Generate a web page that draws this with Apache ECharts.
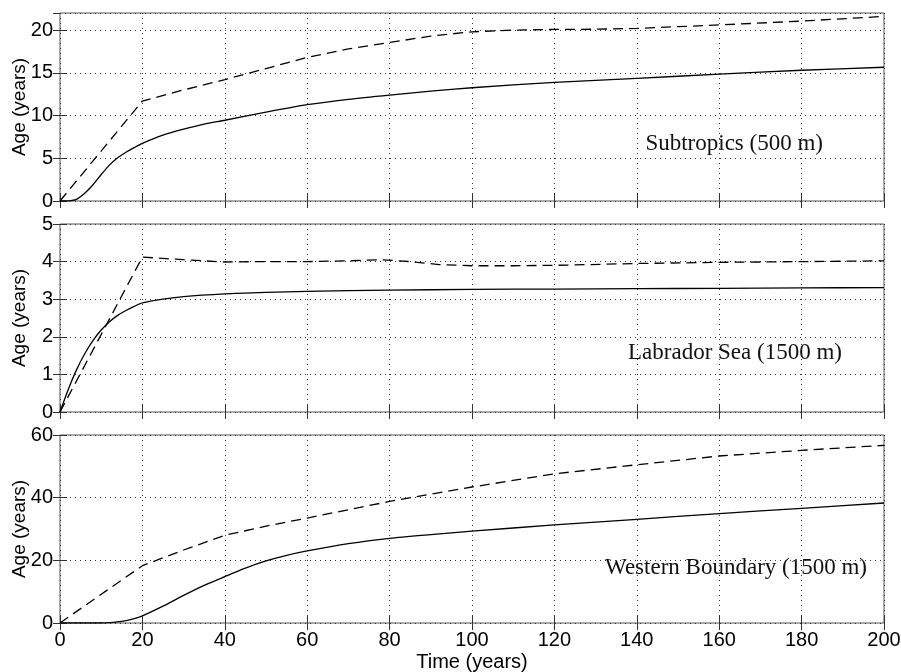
<!DOCTYPE html>
<html>
<head>
<meta charset="utf-8">
<title>Age vs time</title>
<script src="https://cdn.jsdelivr.net/npm/echarts@6/dist/echarts.min.js"></script>
<style>
  html, body { margin: 0; padding: 0; background: #fff; }
  #chart { width: 901px; height: 672px; }
</style>
</head>
<body>
<div id="chart"></div>
<script>
// Subtropics (500 m)
var subSolidT   = [0, 2, 4, 6, 8, 10, 12, 14, 16, 18, 20, 25, 30, 35, 40, 50, 60, 70, 80, 90, 100, 120, 140, 160, 180, 200];
var subSolidAge = [0, 0.02, 0.2, 0.9, 1.9, 3.1, 4.2, 5.05, 5.7, 6.25, 6.75, 7.7, 8.4, 9.0, 9.45, 10.4, 11.27, 11.9, 12.4, 12.85, 13.25, 13.88, 14.35, 14.85, 15.3, 15.65];
var subDashT    = [0, 20, 30, 40, 50, 60, 70, 80, 90, 100, 110, 120, 130, 140, 160, 180, 200];
var subDashAge  = [0, 11.7, 13.0, 14.2, 15.5, 16.8, 17.8, 18.55, 19.3, 19.8, 20.0, 20.08, 20.1, 20.2, 20.6, 21.05, 21.6];

// Labrador Sea (1500 m)
var labSolidT   = [0, 2, 4, 6, 8, 10, 12, 14, 16, 18, 20, 25, 30, 40, 50, 60, 80, 100, 120, 140, 160, 180, 200];
var labSolidAge = [0, 0.6, 1.12, 1.55, 1.9, 2.18, 2.4, 2.57, 2.7, 2.81, 2.9, 3.0, 3.07, 3.14, 3.18, 3.21, 3.24, 3.26, 3.27, 3.28, 3.29, 3.3, 3.31];
var labDashT    = [0, 20, 30, 40, 50, 60, 70, 78, 85, 92, 100, 110, 120, 140, 160, 180, 200];
var labDashAge  = [0, 4.12, 4.05, 3.99, 4.0, 4.0, 4.02, 4.05, 4.0, 3.92, 3.89, 3.89, 3.9, 3.95, 3.98, 4.0, 4.02];

// Western Boundary (1500 m)
var wbSolidT    = [0, 10, 12, 15, 18, 20, 25, 30, 35, 40, 45, 50, 55, 60, 70, 80, 90, 100, 120, 140, 160, 180, 200];
var wbSolidAge  = [0, 0, 0.1, 0.5, 1.4, 2.3, 5.4, 8.8, 12.0, 14.8, 17.5, 19.8, 21.6, 23.0, 25.3, 27.0, 28.2, 29.3, 31.3, 33.1, 34.9, 36.6, 38.3];
var wbDashT     = [0, 20, 30, 40, 50, 60, 80, 100, 120, 140, 160, 180, 200];
var wbDashAge   = [0, 18.3, 23.3, 28.0, 30.9, 33.5, 38.8, 43.4, 47.6, 50.5, 53.3, 55.1, 56.7];

var xTicks = [0, 20, 40, 60, 80, 100, 120, 140, 160, 180, 200];
var panelNames = ['Subtropics (500 m)', 'Labrador Sea (1500 m)', 'Western Boundary (1500 m)'];
var yMax  = [22, 5, 60];
var yStep = [5, 1, 20];

function pairs(t, a) {
    return t.map(function (v, i) { return [v, a[i]]; });
}

var chart = echarts.init(document.getElementById('chart'));

var tops = [13, 224, 435];
var grids = [], xAxes = [], yAxes = [], series = [];
var sansFont = '"Liberation Sans", Arial, sans-serif';
var dotted = { color: '#333', width: 1, type: [1, 4] };
var tickStyle = { color: '#333', width: 1 };

tops.forEach(function (top, i) {
    var last = i === tops.length - 1;
    grids.push({
        left: 60, right: 17, top: top, height: 188,
        outerBoundsMode: 'none', containLabel: false,
        show: true, borderColor: '#555', borderWidth: 1
    });
    // bottom x axis
    xAxes.push({
        gridIndex: i, type: 'value', min: xTicks[0], max: xTicks[xTicks.length - 1], interval: 20,
        axisLine: { show: false },
        axisTick: { inside: true, length: 7, lineStyle: tickStyle },
        splitLine: { show: true, lineStyle: dotted },
        axisLabel: { show: last, color: '#000', fontSize: 20, fontFamily: sansFont, margin: 7 },
        name: last ? 'Time (years)' : '',
        nameLocation: 'middle', nameGap: 29, nameMoveOverlap: false,
        nameTextStyle: { color: '#000', fontSize: 20, fontFamily: sansFont }
    });
    // top x axis (ticks only)
    xAxes.push({
        gridIndex: i, type: 'value', position: 'top', min: 0, max: 200, interval: 20,
        axisLine: { show: false },
        axisTick: { inside: true, length: 7, lineStyle: tickStyle },
        splitLine: { show: false },
        axisLabel: { show: false }
    });
    yAxes.push({
        gridIndex: i, type: 'value', min: 0, max: yMax[i], interval: yStep[i],
        axisLine: { show: false },
        axisTick: { inside: true, length: 7, lineStyle: tickStyle },
        splitLine: { show: true, lineStyle: dotted },
        axisLabel: { color: '#000', fontSize: 20, fontFamily: sansFont, margin: 7, showMaxLabel: i !== 0 },
        name: 'Age (years)', nameLocation: 'middle', nameGap: 31, nameMoveOverlap: false,
        nameTextStyle: { color: '#000', fontSize: 19, fontFamily: sansFont }
    });
    yAxes.push({
        gridIndex: i, type: 'value', position: 'right', min: 0, max: yMax[i], interval: yStep[i],
        axisLine: { show: false },
        axisTick: { inside: true, length: 7, lineStyle: tickStyle },
        splitLine: { show: false },
        axisLabel: { show: false }
    });
});

var lineData = [
    [pairs(subSolidT, subSolidAge), pairs(subDashT, subDashAge)],
    [pairs(labSolidT, labSolidAge), pairs(labDashT, labDashAge)],
    [pairs(wbSolidT, wbSolidAge), pairs(wbDashT, wbDashAge)]
];

lineData.forEach(function (d, i) {
    series.push({
        type: 'line', xAxisIndex: i * 2, yAxisIndex: i * 2, data: d[0],
        showSymbol: false, smooth: 0.25, silent: true,
        lineStyle: { color: '#000', width: 1.3 }
    });
    series.push({
        type: 'line', xAxisIndex: i * 2, yAxisIndex: i * 2, data: d[1],
        showSymbol: false, smooth: false, silent: true,
        lineStyle: { color: '#000', width: 1.3, type: [10, 6] }
    });
});

// panel captions
var captionPos = [[823, 145], [842, 354], [867, 569]];
var graphics = panelNames.map(function (name, i) {
    return {
        type: 'text', right: 901 - captionPos[i][0], top: captionPos[i][1] - 13,
        style: {
            text: name, fill: '#111',
            font: '23px "Liberation Serif", "Times New Roman", serif'
        }
    };
});

chart.setOption({
    animation: false,
    backgroundColor: '#fff',
    grid: grids,
    xAxis: xAxes,
    yAxis: yAxes,
    series: series,
    graphic: graphics
});
</script>
</body>
</html>
